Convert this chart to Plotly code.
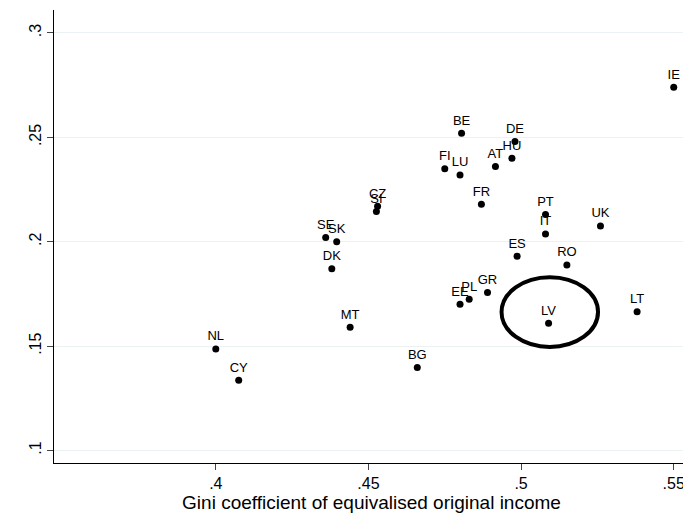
import plotly.graph_objects as go

countries = ["IE", "BE", "DE", "HU", "FI", "LU", "AT", "FR", "CZ", "SI", "SE", "SK", "DK",
             "PT", "UK", "IT", "ES", "RO", "GR", "PL", "EE", "LV", "LT", "MT", "BG", "NL", "CY"]
gini = [0.550, 0.4805, 0.498, 0.497, 0.475, 0.480, 0.4916, 0.487, 0.453, 0.4526, 0.436, 0.4396, 0.438,
        0.508, 0.526, 0.508, 0.4987, 0.515, 0.489, 0.483, 0.480, 0.509, 0.538, 0.444, 0.466, 0.400, 0.4075]
yvals = [0.274, 0.252, 0.248, 0.240, 0.235, 0.232, 0.236, 0.218, 0.217, 0.2145, 0.202, 0.200, 0.187,
         0.213, 0.2075, 0.2037, 0.193, 0.1888, 0.1757, 0.1724, 0.170, 0.161, 0.1664, 0.159, 0.1397, 0.1486, 0.1336]
xticks = [0.4, 0.45, 0.5, 0.55]
xlabels = [".4", ".45", ".5", ".55"]
yticks = [0.1, 0.15, 0.2, 0.25, 0.3]
ylabels = [".1", ".15", ".2", ".25", ".3"]

fig = go.Figure(go.Scatter(
    x=gini, y=yvals, mode="markers+text", text=countries, textposition="top center",
    marker=dict(color="black", size=7), textfont=dict(size=13, color="black"),
    cliponaxis=False,
))

# circle around Latvia
fig.add_shape(type="circle", xref="x", yref="y", x0=0.4936, x1=0.5252, y0=0.1496, y1=0.183,
              line=dict(color="black", width=4))

fig.update_layout(
    width=691, height=515, showlegend=False,
    plot_bgcolor="white", paper_bgcolor="white",
    font=dict(family="Liberation Sans, Arial", size=16, color="black"),
    margin=dict(l=46, r=10, t=2, b=60),
)
fig.update_xaxes(range=[0.347, 0.555], tickvals=xticks, ticktext=xlabels, ticks="outside", ticklen=6,
                 showgrid=False, zeroline=False, showline=True, linecolor="black",
                 title=dict(text="Gini coefficient of equivalised original income", standoff=0))
fig.update_yaxes(range=[0.094, 0.311], tickvals=yticks, ticktext=ylabels, ticks="outside", ticklen=6,
                 tickangle=-90, showgrid=True, gridcolor="#eaf2f3", zeroline=False,
                 showline=True, linecolor="black")

fig.write_html("out.html")
